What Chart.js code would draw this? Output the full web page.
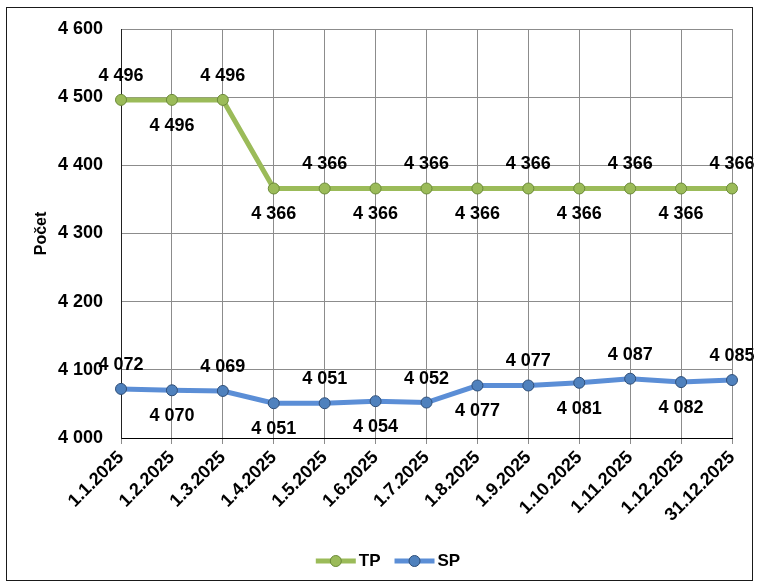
<!DOCTYPE html>
<html>
<head>
<meta charset="utf-8">
<script src="https://cdn.jsdelivr.net/npm/chart.js@4/dist/chart.umd.min.js"></script>
<style>
  html, body { margin: 0; padding: 0; background: #fff; }
  #wrap { position: relative; width: 760px; height: 582px; }
  #frame { position: absolute; left: 6px; top: 7px; width: 747px; height: 574px;
           border: 1.5px solid #1a1a1a; box-sizing: border-box; pointer-events: none; }
  #chart { position: absolute; left: 0; top: 0; }
</style>
</head>
<body>
<div id="wrap">
  <canvas id="chart" width="760" height="582"></canvas>
  <div id="frame"></div>
</div>
<script>
/* ── Data ── */
const dates = ['1.1.2025', '1.2.2025', '1.3.2025', '1.4.2025', '1.5.2025', '1.6.2025', '1.7.2025',
               '1.8.2025', '1.9.2025', '1.10.2025', '1.11.2025', '1.12.2025', '31.12.2025'];
const tpValues = [4496, 4496, 4496, 4366, 4366, 4366, 4366, 4366, 4366, 4366, 4366, 4366, 4366];
const spValues = [4072, 4070, 4069, 4051, 4051, 4054, 4052, 4077, 4077, 4081, 4087, 4082, 4085];
const yMin = 4000, yMax = 4600, yStep = 100;

const FONT = '"Liberation Sans", Arial, sans-serif';

// 4496 -> "4 496"
function fmt(v) {
  const s = String(Math.round(v));
  return s.replace(/\B(?=(\d{3})+(?!\d))/g, ' ');
}

/* ── Value labels, alternating above / below ── */
const valueLabels = {
  id: 'valueLabels',
  afterDatasetsDraw(chart) {
    const ctx = chart.ctx;
    ctx.save();
    ctx.font = 'bold 18px ' + FONT;
    ctx.fillStyle = '#000';
    ctx.textAlign = 'center';
    ctx.textBaseline = 'middle';
    chart.data.datasets.forEach((ds, di) => {
      chart.getDatasetMeta(di).data.forEach((pt, i) => {
        const dy = i % 2 === 0 ? -24 : 26;
        ctx.fillText(fmt(ds.data[i]), pt.x, pt.y + dy);
      });
    });
    ctx.restore();
  }
};

/* ── Bottom legend: line with marker + name ── */
const lineLegend = {
  id: 'lineLegend',
  afterDraw(chart) {
    const ctx = chart.ctx;
    const sets = chart.data.datasets;
    const lineW = 40, gapText = 3, gapItem = 14, cy = 561;
    ctx.save();
    ctx.font = 'bold 17px ' + FONT;
    ctx.textBaseline = 'middle';
    const widths = sets.map(ds => lineW + gapText + ctx.measureText(ds.label).width);
    const total = widths.reduce((a, b) => a + b, 0) + gapItem * (sets.length - 1);
    let x = 388 - total / 2;
    sets.forEach((ds, i) => {
      ctx.strokeStyle = ds.borderColor;
      ctx.lineWidth = 5;
      ctx.beginPath();
      ctx.moveTo(x, cy);
      ctx.lineTo(x + lineW, cy);
      ctx.stroke();
      ctx.beginPath();
      ctx.arc(x + lineW / 2, cy, 5.5, 0, Math.PI * 2);
      ctx.fillStyle = ds.pointBackgroundColor;
      ctx.fill();
      ctx.lineWidth = 1;
      ctx.strokeStyle = ds.pointBorderColor;
      ctx.stroke();
      ctx.fillStyle = '#000';
      ctx.textAlign = 'left';
      ctx.fillText(ds.label, x + lineW + gapText, cy);
      x += widths[i] + gapItem;
    });
    ctx.restore();
  }
};

/* ── Chart ── */
new Chart(document.getElementById('chart'), {
  type: 'line',
  data: {
    labels: dates,
    datasets: [
      { label: 'TP', data: tpValues, borderColor: '#9BBB59', borderWidth: 5,
        pointRadius: 5.5, pointHoverRadius: 5.5, pointBackgroundColor: '#9BBB59',
        pointBorderColor: '#6B8A38', pointBorderWidth: 1, tension: 0, clip: false },
      { label: 'SP', data: spValues, borderColor: '#5B8ED6', borderWidth: 5,
        pointRadius: 5.5, pointHoverRadius: 5.5, pointBackgroundColor: '#4F81BD',
        pointBorderColor: '#2E4E78', pointBorderWidth: 1, tension: 0, clip: false }
    ]
  },
  options: {
    responsive: false,
    animation: false,
    layout: { padding: { top: 29, right: 28, left: 0, bottom: 0 } },
    plugins: { legend: { display: false }, tooltip: { enabled: false } },
    scales: {
      x: {
        offset: false,
        grid: { color: '#8C8C8C', lineWidth: 1, drawTicks: true, tickLength: 6 },
        border: { color: '#000', width: 1 },
        ticks: { autoSkip: false, minRotation: 45, maxRotation: 45, padding: 3,
                 color: '#000', font: { family: FONT, size: 18, weight: 'bold' } },
        afterFit(s) { s.height = 144; }
      },
      y: {
        min: yMin, max: yMax,
        grid: { color: '#8C8C8C', lineWidth: 1, drawTicks: false },
        border: { color: '#222', width: 1 },
        ticks: { stepSize: yStep, padding: 18, color: '#000',
                 font: { family: FONT, size: 18, weight: 'bold' }, callback: v => fmt(v) },
        title: { display: true, text: 'Počet', color: '#000',
                 font: { family: FONT, size: 16, weight: 'bold' }, padding: { top: 32, bottom: 0 } },
        afterFit(s) { s.width = 121; }
      }
    }
  },
  plugins: [valueLabels, lineLegend]
});
</script>
</body>
</html>
